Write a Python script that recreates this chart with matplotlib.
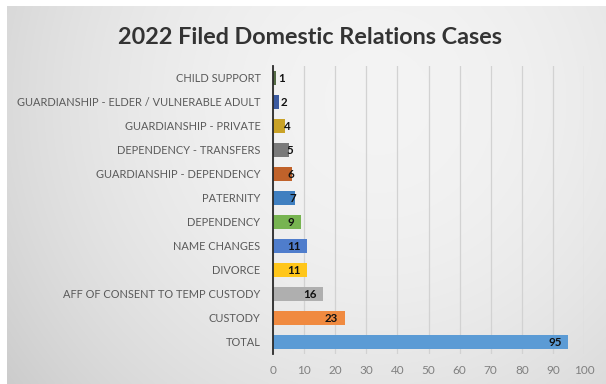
import numpy as np
import matplotlib
matplotlib.use("Agg")
import matplotlib.pyplot as plt

# Case counts, listed bottom to top
categories = [
    "TOTAL",
    "CUSTODY",
    "AFF OF CONSENT TO TEMP CUSTODY",
    "DIVORCE",
    "NAME CHANGES",
    "DEPENDENCY",
    "PATERNITY",
    "GUARDIANSHIP - DEPENDENCY",
    "DEPENDENCY - TRANSFERS",
    "GUARDIANSHIP - PRIVATE",
    "GUARDIANSHIP - ELDER / VULNERABLE ADULT",
    "CHILD SUPPORT",
]
counts = [95, 23, 16, 11, 11, 9, 7, 6, 5, 4, 2, 1]
bar_colors = [
    "#5B9BD5", "#F08A40", "#AFAFAF", "#FFC61A", "#4F7DCC", "#77B451",
    "#3F7FC0", "#C0622A", "#7A7A7A", "#C9A227", "#3B5AA0", "#556B45",
]
x_ticks = [0, 10, 20, 30, 40, 50, 60, 70, 80, 90, 100]
title = "2022 Filed Domestic Relations Cases"

plt.rcParams["font.family"] = ["Lato", "DejaVu Sans"]

W, H = 606, 384
fig = plt.figure(figsize=(W / 100, H / 100), dpi=100)
fig.patch.set_facecolor("white")

# Soft gray slide background with a lighter centre
bg = fig.add_axes([7 / W, 0, 1 - 7 / W, 1 - 6 / H], zorder=-10)
yy, xx = np.mgrid[0:1:200j, 0:1:300j]
light = 0.955 - 0.09 * ((xx - 0.62) ** 2 / 0.35 + (yy - 0.75) ** 2 / 0.9)
light = np.clip(light, 0.80, 0.96)
bg.imshow(np.dstack([light] * 3), aspect="auto", origin="lower",
          extent=[0, 1, 0, 1], interpolation="bilinear")
bg.set_axis_off()

ax = fig.add_axes([273 / W, 1 - 354 / H, (584 - 273) / W, (354 - 66) / H])
ax.set_facecolor("none")

y = np.arange(len(categories))
ax.barh(y, counts, height=0.55, color=bar_colors, zorder=3)

ax.set_xlim(0, 100)
ax.set_ylim(-0.5, len(categories) - 0.5)
ax.set_xticks(x_ticks)
ax.set_xticklabels([str(t) for t in x_ticks], color="#808080", fontsize=8.5)
ax.set_yticks(y)
ax.set_yticklabels(categories, color="#5a5a5a", fontsize=7.9)
ax.tick_params(axis="both", length=0)
ax.tick_params(axis="y", pad=9)
ax.tick_params(axis="x", pad=8)

ax.grid(axis="x", color="#d2d2d2", linewidth=0.9, zorder=0)
for side in ("top", "right", "bottom"):
    ax.spines[side].set_visible(False)
ax.spines["left"].set_color("#2a2a2a")
ax.spines["left"].set_linewidth(1.3)
ax.spines["left"].set_zorder(4)

# Value labels at the bar ends
for yi, v in zip(y, counts):
    if v >= 9:
        ax.annotate(str(v), (v, yi), xytext=(-4.5, 0), textcoords="offset points",
                    ha="right", va="center", fontsize=8.3, fontweight="bold",
                    color="#111111", zorder=5)
    else:
        ax.text(v * 0.6 + 1.2, yi, str(v), ha="left", va="center",
                fontsize=8.3, fontweight="bold", color="#111111", zorder=5)

fig.text(310 / W, 1 - 37 / H, title, ha="center", va="center",
         fontsize=16.8, fontweight="bold", color="#333333")

fig.savefig("out.png", dpi=100, facecolor=fig.get_facecolor())
